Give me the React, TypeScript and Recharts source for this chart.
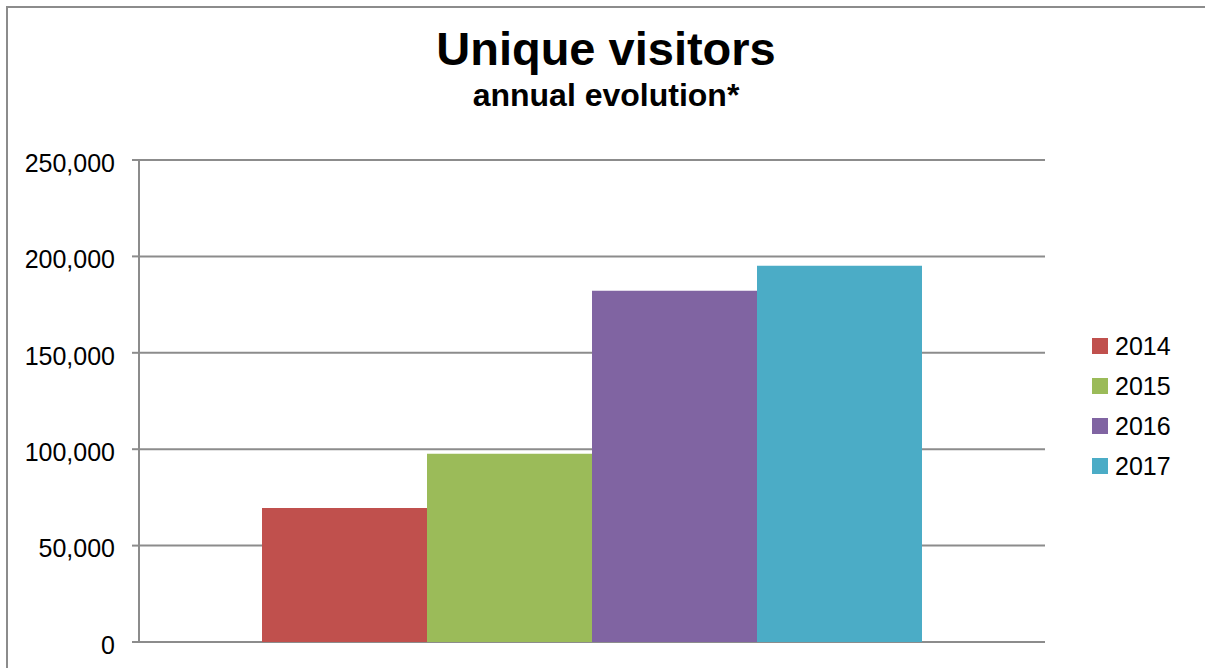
import { useEffect } from 'react'
import { BarChart, Bar, XAxis, YAxis, CartesianGrid } from 'recharts'

const years = ['2014', '2015', '2016', '2017']
const visitors = [69500, 97700, 182200, 195200]
const colors = ['#c0504d', '#9bbb59', '#8064a2', '#4bacc6']
const yTicks = [0, 50000, 100000, 150000, 200000, 250000]

const row: Record<string, string | number> = { name: '' }
years.forEach((y, i) => { row[y] = visitors[i] })
const data = [row]

const FONT = '"Liberation Sans", Arial, Helvetica, sans-serif'
const GRID = '#8c8c8c'

function YearLegend() {
  return (
    <div style={{ position: 'absolute', left: 1092, top: 326, fontFamily: FONT, fontSize: 25, color: '#000' }}>
      {years.map((y, i) => (
        <div key={y} style={{ display: 'flex', alignItems: 'center', height: 40 }}>
          <span style={{ width: 16, height: 16, background: colors[i], marginRight: 7, display: 'inline-block' }} />
          <span style={{ lineHeight: '40px' }}>{y}</span>
        </div>
      ))}
    </div>
  )
}

export default function App() {
  // the page should not scroll (keeps the scrollbar out of the picture)
  useEffect(() => {
    document.documentElement.style.overflow = 'hidden'
    document.body.style.overflow = 'hidden'
    document.body.style.margin = '0'
  }, [])

  return (
    <div style={{ position: 'fixed', left: 0, top: 0, width: 1205, height: 668, overflow: 'hidden', background: '#fff' }}>
      <div style={{ position: 'absolute', left: 6, top: 6, width: 1199, height: 2, background: GRID }} />
      <div style={{ position: 'absolute', left: 6, top: 6, width: 2, height: 662, background: GRID }} />
      <svg width={1205} height={130} style={{ position: 'absolute', left: 0, top: 0 }}>
        <text x={606} y={65} textAnchor="middle" fontFamily={FONT} fontWeight="bold" fontSize={47} fill="#000">
          Unique visitors
        </text>
        <text x={606} y={106} textAnchor="middle" fontFamily={FONT} fontWeight="bold" fontSize={32} fill="#000">
          annual evolution*
        </text>
      </svg>
      <div style={{ position: 'absolute', left: 0, top: 0 }}>
        <BarChart width={1205} height={668} data={data} margin={{ top: 160, right: 160, bottom: 26, left: 0 }} barGap={0} barSize={165}>
          <CartesianGrid vertical={false} stroke={GRID} strokeWidth={2} />
          <XAxis dataKey="name" tick={false} tickLine={false} height={0} axisLine={{ stroke: GRID, strokeWidth: 2 }} />
          <YAxis
            width={139}
            domain={[0, 250000]}
            ticks={yTicks}
            interval={0}
            tickSize={7}
            tickMargin={17}
            axisLine={{ stroke: GRID, strokeWidth: 2 }}
            tickLine={{ stroke: GRID, strokeWidth: 2 }}
            tick={{ fill: '#000', fontSize: 25, fontFamily: FONT, dy: 3 }}
            tickFormatter={(v: number) => v.toLocaleString('en-US')}
          />
          {years.map((y, i) => (
            <Bar key={y} dataKey={y} fill={colors[i]} isAnimationActive={false} />
          ))}
        </BarChart>
      </div>
      <YearLegend />
    </div>
  )
}
